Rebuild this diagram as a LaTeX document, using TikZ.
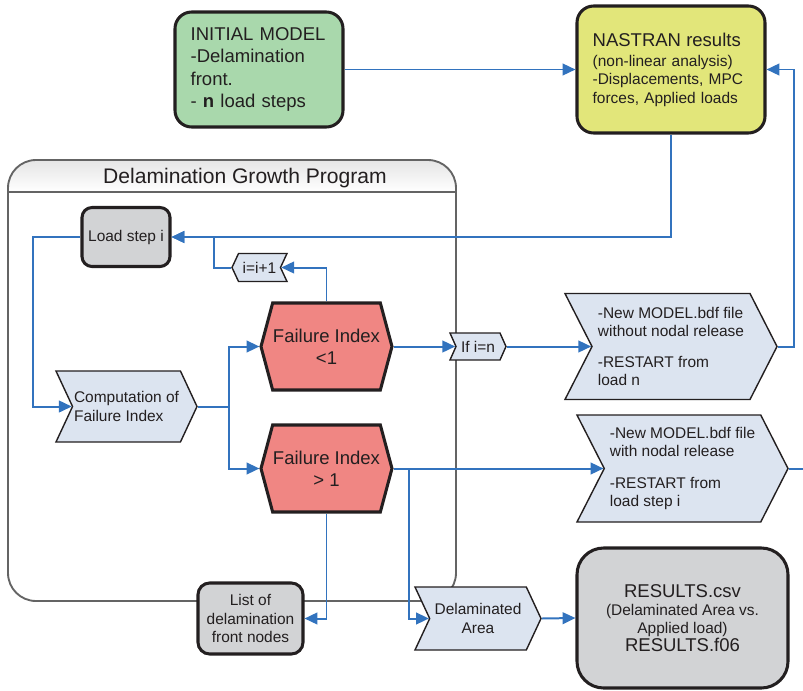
\documentclass[tikz,border=0pt]{standalone}
\usepackage{fontspec}
\setmainfont{Liberation Sans}
\usetikzlibrary{arrows.meta, shapes.symbols}

\definecolor{modelgreen}{RGB}{169,216,172}
\definecolor{nastranyellow}{RGB}{226,230,122}
\definecolor{indexred}{RGB}{240,134,131}
\definecolor{stepblue}{RGB}{220,228,240}
\definecolor{boxgray}{RGB}{210,211,213}
\definecolor{flowblue}{RGB}{50,115,190}
\definecolor{framegray}{RGB}{100,100,100}
\definecolor{ink}{RGB}{35,31,32}

\newcommand{\fbig}{\fontsize{15.8}{19}\selectfont}
\newcommand{\fsmall}{\fontsize{13.2}{15.5}\selectfont}
\newcommand{\ftitle}{\fontsize{18}{21}\selectfont}

\begin{document}
\begin{tikzpicture}[
    x=0.03cm, y=-0.03cm,
    text=ink,
    roundbox/.style={
        draw=ink,
        rectangle,
        rounded corners=0.5cm,
        line width=2.6pt,
        inner sep=0pt
    },
    hexbox/.style={
        draw=ink,
        fill=indexred,
        signal,
        signal to=east and west,
        signal pointer angle=150,
        minimum width=3.93cm,
        minimum height=2.61cm,
        line width=2.6pt,
        inner sep=0pt,
        align=center,
        font=\fbig
    },
    stepshape/.style={
        draw=ink,
        fill=stepblue,
        signal,
        signal pointer angle=130,
        line width=1.2pt,
        inner sep=0pt,
        font=\fsmall
    },
    chevron/.style={stepshape, signal to=east, signal from=west},
    backchevron/.style={stepshape, signal to=west, signal from=east},
    flow/.style={
        draw=flowblue,
        line width=1.7pt,
        -{Triangle[length=11pt,width=10pt]}
    },
    link/.style={draw=flowblue, line width=1.7pt},
    frame/.style={draw=framegray, line width=1.6pt}
]
\useasboundingbox (0,0) rectangle (803,690);

% ------------------------------------------------------------
% Program frame with its title band
% ------------------------------------------------------------
\shade[top color=black!10, bottom color=white]
    (8,192) [rounded corners=0.84cm] -- (8,160) -- (456,160) [sharp corners] -- (456,192) -- cycle;
\draw[frame, rounded corners=0.84cm] (8,160) rectangle (456,601);
\draw[frame] (8,192) -- (456,192);
\node[font=\ftitle] (progtitle) at (245,178) {Delamination Growth Program};

% ------------------------------------------------------------
% Nodes
% ------------------------------------------------------------
\node[roundbox, fill=modelgreen, minimum width=5.04cm, minimum height=3.45cm,
      text width=4.1cm, align=left, font=\fbig] (init) at (259,69.5)
    {INITIAL MODEL\\-Delamination\\front.\\- \textbf{n} load steps};

\node[roundbox, fill=nastranyellow, minimum width=5.64cm, minimum height=3.81cm,
      text width=4.7cm, align=left, font=\fsmall] (nastran) at (671,69.5)
    {{\fbig NASTRAN results}\\[2pt](non-linear analysis)\\-Displacements, MPC\\forces, Applied loads};

\node[roundbox, fill=boxgray, rounded corners=0.3cm, minimum width=2.64cm,
      minimum height=1.77cm, font=\fsmall] (loadstep) at (126,237) {Load step i};

\node[backchevron, minimum width=1.65cm, minimum height=0.84cm] (incr) at (259.5,267.5) {i=i+1};

\node[chevron, minimum width=4.23cm, minimum height=2.13cm, align=left] (comp) at (126.5,406.5)
    {Computation of\\Failure Index};

\node[hexbox] (filess)  at (326.5,346.5) {Failure Index\\<1};
\node[hexbox] (figreat) at (326.5,468.5) {Failure Index\\> 1};

\node[chevron, signal pointer angle=132, minimum width=1.68cm, minimum height=0.81cm] (ifn) at (478,346.5) {If i=n};

\node[chevron, signal pointer angle=126, minimum width=6.36cm, minimum height=3.18cm, align=left] (restartn) at (671,346.5)
    {-New MODEL.bdf file\\without nodal release\\[11pt]-RESTART from\\load n};
\node[chevron, signal pointer angle=126, minimum width=6.33cm, minimum height=3.21cm, align=left] (restarti) at (682.5,468.5)
    {-New MODEL.bdf file\\with nodal release\\[11pt]-RESTART from\\load step i};

\node[roundbox, fill=boxgray, rounded corners=0.35cm, minimum width=3.15cm, minimum height=2.13cm,
      align=center, font=\fsmall] (listnodes) at (250.5,618.5) {List of\\delamination\\front nodes};

\node[chevron, minimum width=3.78cm, minimum height=1.89cm, align=center] (delarea) at (478,618.5)
    {Delaminated\\Area};

\node[roundbox, fill=boxgray, rounded corners=0.8cm, minimum width=6.33cm, minimum height=4.2cm,
      align=center, font=\fsmall] (results) at (682.5,618)
    {{\fbig RESULTS.csv}\\(Delaminated Area vs.\\Applied load)\\{\fbig RESULTS.f06}};

% ------------------------------------------------------------
% Connectors
% ------------------------------------------------------------
\draw[flow] (init.east) -- (nastran.west);
\draw[flow] (nastran.south) |- (loadstep.east);
\draw[flow] (restartn.east) -- ++(16,0) |- (nastran.east);
\draw[link] (restarti.east) -- ++(20,0);

\draw[flow] (filess.north) |- (incr.east);
\draw[flow] (incr.west) -- ++(-17,0) |- (loadstep.east);
\draw[flow] (loadstep.west) -- ++(-47,0) |- (comp.west);

\draw[flow] (comp.east) -- ++(31,0) |- (filess.west);
\draw[flow] (comp.east) -- ++(31,0) |- (figreat.west);

\draw[flow] (filess.east) -- (ifn.west);
\draw[flow] (ifn.east) -- (restartn.west);
\draw[flow] (figreat.east) -- (restarti.west);
\draw[flow] (figreat.east) -- ++(15,0) |- (delarea.west);
\draw[flow] (figreat.south) |- (listnodes.east);
\draw[flow] (delarea.east) -- (results.west);
\end{tikzpicture}
\end{document}
